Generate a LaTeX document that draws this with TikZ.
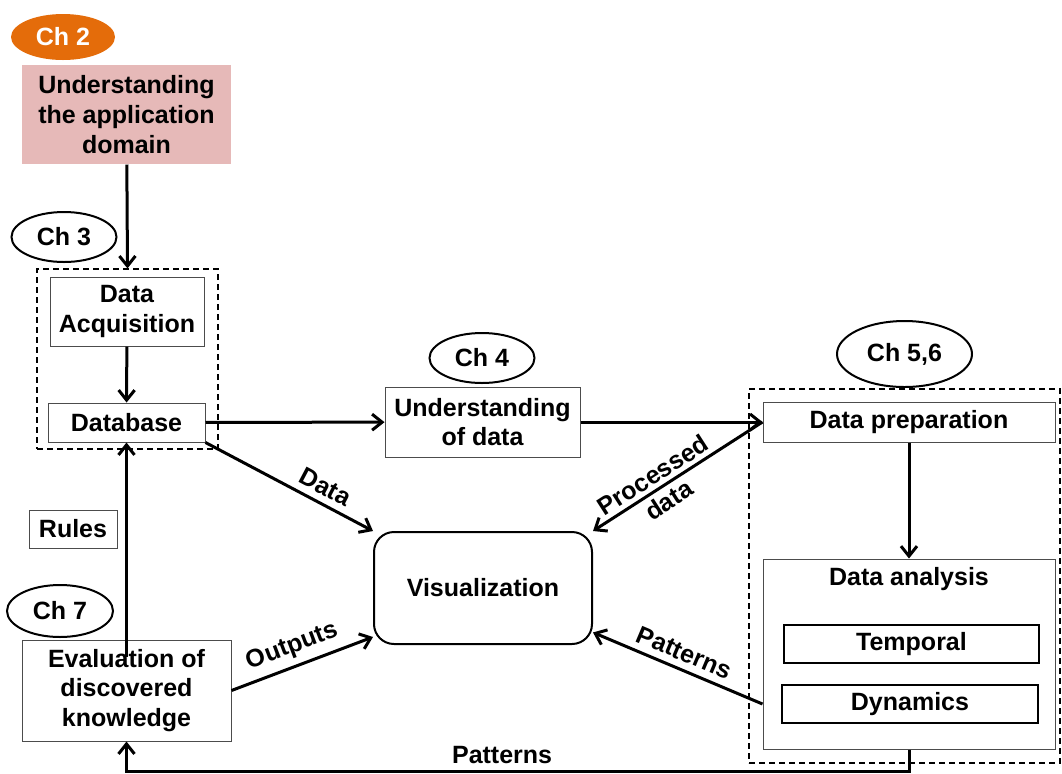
\documentclass[tikz,border=0pt]{standalone}
\usepackage{fontspec}
\setmainfont{Liberation Sans}
\usetikzlibrary{arrows.meta, shapes.geometric, positioning}
\definecolor{chorange}{RGB}{228,108,10}
\definecolor{dompink}{RGB}{230,185,184}
\newcommand{\lblfont}{\fontsize{12.5}{14.8}\selectfont\bfseries}

\begin{document}
\begin{tikzpicture}[x=0.5pt, y=-0.5pt, font=\lblfont]
	\tikzset {>={Straight Barb[length=5pt,width=8pt]}, 
		box/.style={draw=black!70, line width=0.5pt, align=center, inner sep=0pt},
		chap/.style={ellipse, draw, line width=1pt, inner sep=0pt, minimum width=52.5pt, minimum height=25pt},
		grp/.style={draw, dash pattern=on 3pt off 2pt, line width=0.6pt, inner sep=0pt},
		sub/.style={draw, line width=1pt, inner sep=0pt, minimum width=127.5pt, minimum height=19pt},
		flow/.style={->, line width=1.5pt} }
	\useasboundingbox (0,0) rectangle (1062,773);

	% chapter 2 and 3
	\node[ellipse, fill=chorange, text=white, minimum width=52pt, minimum height=23pt] (ch2) at (63,37) {Ch 2};
	\node[box, draw=none, fill=dompink, minimum width=104.5pt, minimum height=49.5pt] (dom) at (126.5,114.5) {Understanding\\the application\\domain};
	\node[chap] (ch3) at (64,237) {Ch 3};
	\node[grp, minimum width=90.5pt, minimum height=90pt] (g3) at (127.5,359) {};
	\node[box, minimum width=77pt, minimum height=34.5pt] (acq) at (127,311.5) {Data\\Acquisition};
	\node[box, minimum width=78.5pt, minimum height=19.5pt] (db) at (126.5,422.5) {Database};

	% chapter 4
	\node[chap] (ch4) at (482,358) {Ch 4};
	\node[box, minimum width=97.5pt, minimum height=35pt] (uod) at (482.5,422) {Understanding\\of data};

	% chapters 5,6
	\node[chap, minimum width=67.5pt, minimum height=33pt] (ch56) at (904.5,354) {Ch 5,6};
	\node[grp, minimum width=155.5pt, minimum height=187pt] (g56) at (904.5,576) {};
	\node[box, minimum width=146pt, minimum height=20pt] (prep) at (909,422) {Data preparation};
	\node[box, minimum width=146pt, minimum height=95pt] (ana) at (909,654) {};
	\node (anat) at (909,579) {Data analysis};
	\node[sub] (temp) at (911.5,644) {Temporal};
	\node[sub, minimum width=128pt] (dyn) at (910,704) {Dynamics};

	% visualization and chapter 7
	\node[draw, line width=1pt, rounded corners=10pt, minimum width=109pt, minimum height=56pt] (vis) at (483,588) {Visualization};
	\node[box, minimum width=44pt, minimum height=19pt] (rules) at (73,529) {Rules};
	\node[chap, minimum width=53pt, minimum height=26pt] (ch7) at (60,611) {Ch 7};
	\node[box, minimum width=104.5pt, minimum height=50.5pt] (eval) at (126.5,690.5) {Evaluation of\\discovered\\knowledge};

	\draw[flow] (dom) -- (g3.north);
	\draw[flow] (acq) -- (db);
	\draw[flow] (db) -- (uod);
	\draw[flow] (uod) -- (prep);
	\draw[flow] (prep) -- (ana);
	\draw[flow] (db.south east) -- node[above, sloped, pos=0.67] {Data} (vis.north west);
	\draw[flow] (prep.west) -- node[sloped, align=center, pos=0.6] {Processed\\data} (vis.north east);
	\draw[flow] (ana.west |- dyn) -- node[above, sloped, pos=0.5] {Patterns} (vis.-22);
	\draw[flow] (eval.east) -- node[above, sloped, pos=0.48] {Outputs} (vis.204);
	\draw[flow] ([yshift=-8.5pt]eval.north) -- (db.south);
	\draw[flow] (ana.south) -- ++(0,22) -| node[above, pos=0.26] {Patterns} (eval.south);
\end{tikzpicture}
\end{document}
